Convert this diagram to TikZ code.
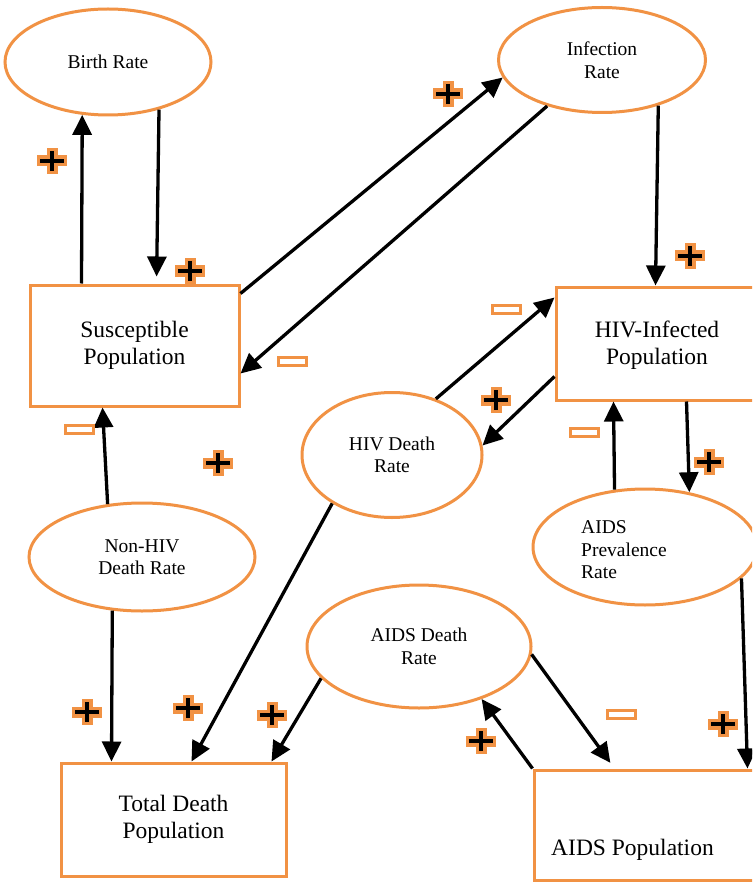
\documentclass[tikz,border=0pt]{standalone}
\usepackage{fontspec}
\setmainfont{Liberation Serif}
\usetikzlibrary{arrows.meta,shapes.geometric}
\definecolor{sdorange}{RGB}{241,146,68}
\tikzset{
  stock/.style={draw=sdorange, line width=3pt, rectangle, inner sep=0pt, fill=white},
  rate/.style={draw=sdorange, line width=3pt, ellipse, inner sep=0pt, fill=white},
  boxtext/.style={font=\fontsize{23.5}{27}\selectfont, align=center},
  ratetext/.style={font=\fontsize{19.5}{22.5}\selectfont, align=center},
  link/.style={line width=3.3pt, -{Triangle[length=20pt,width=19pt]}},
  plussign/.pic={
    \fill[sdorange] (-15,-5.5) rectangle (15,5.5);
    \fill[sdorange] (-5.5,-13) rectangle (5.5,13);
    \draw[line width=4pt] (-12,0) -- (12,0) (0,-10) -- (0,10);
  },
  minussign/.pic={
    \draw[sdorange, line width=3pt, fill=white] (-14,-4) rectangle (14,4);
  }
}
\begin{document}
\begin{tikzpicture}[x=1pt,y=-1pt]
\useasboundingbox (0,0) rectangle (752,882);
\clip (0,0) rectangle (752,882);
\fill[white] (0,0) rectangle (752,882);

% stocks (the two on the right run past the page edge)
\node[stock, boxtext, minimum width=209pt, minimum height=121pt] (susc) at (134.5,345.5) {Susceptible\\Population};
\node[stock, minimum width=260pt, minimum height=113pt] (hiv) at (686,343.5) {};
\node[boxtext, inner sep=0pt] (hivlabel) at (657,345) {HIV-Infected\\Population};
\node[stock, boxtext, minimum width=225pt, minimum height=113pt] (total) at (173.5,819.5) {Total Death\\Population};
\node[stock, minimum width=270pt, minimum height=110pt] (aidspop) at (669,825) {};
\node[boxtext, anchor=base west, inner sep=0pt] (aidspoplabel) at (551,855) {AIDS Population};

% rates
\node[rate, ratetext, minimum width=206pt, minimum height=106pt] (birth) at (108,62) {Birth Rate};
\node[rate, ratetext, minimum width=207pt, minimum height=105pt] (infect) at (602,60) {Infection\\Rate};
\node[rate, ratetext, minimum width=180pt, minimum height=125pt] (hdeath) at (392,455) {HIV Death\\Rate};
\node[rate, ratetext, minimum width=226pt, minimum height=108pt] (nonhiv) at (142,557) {Non-HIV\\Death Rate};
\node[rate, minimum width=224pt, minimum height=116pt] (prev) at (645,547) {};
\node[ratetext, align=left, anchor=west, inner sep=0pt] (prevlabel) at (581,550) {AIDS\\Prevalence\\Rate};
\node[rate, ratetext, minimum width=224pt, minimum height=123pt] (adeath) at (419,646.5) {AIDS Death\\Rate};

% causal links
\draw[link] ([xshift=53pt]susc.north west) -- (birth.-116);
\draw[link, shorten >=7pt] (birth.-43) -- ([xshift=128pt]susc.north west);
\draw[link] ([yshift=-10pt]susc.north east) -- (infect.-170);
\draw[link] (infect.-140) -- ([yshift=-90pt]susc.north east);
\draw[link] (infect.-39) -- ([xshift=101pt]hiv.north west);
\draw[link] (hdeath.52.5) -- ([yshift=-12pt]hiv.north west);
\draw[link] ([yshift=-91pt]hiv.north west) -- (hdeath.6);
\draw[link] (prev.118) -- ([xshift=59pt]hiv.south west);
\draw[link] ([xshift=132pt]hiv.south west) -- (prev.51);
\draw[link] (nonhiv.123) -- ([xshift=74pt]susc.south west);
\draw[link] (nonhiv.-119) -- ([xshift=52pt]total.north west);
\draw[link] (hdeath.-141.5) -- ([xshift=132pt]total.north west);
\draw[link] (adeath.-162.7) -- ([xshift=212pt]total.north west);
\draw[link] (aidspop.north west) -- (adeath.-40.3);
\draw[link, shorten >=7pt] (adeath.-4.8) -- ([xshift=82pt]aidspop.north west);
\draw[link] (prev.-18) -- ([xshift=215pt]aidspop.north west);

% polarity marks
\pic at (52,161) {plussign};
\pic at (190,271) {plussign};
\pic at (448,94) {plussign};
\pic at (690,256) {plussign};
\pic at (218,463) {plussign};
\pic at (496,400) {plussign};
\pic at (709,462) {plussign};
\pic at (87,712) {plussign};
\pic at (188,708) {plussign};
\pic at (272,715) {plussign};
\pic at (481,741) {plussign};
\pic at (723,724) {plussign};

\pic at (292,361) {minussign};
\pic at (79,429) {minussign};
\pic at (506,309) {minussign};
\pic at (584,432) {minussign};
\pic at (621,714) {minussign};
\end{tikzpicture}
\end{document}
